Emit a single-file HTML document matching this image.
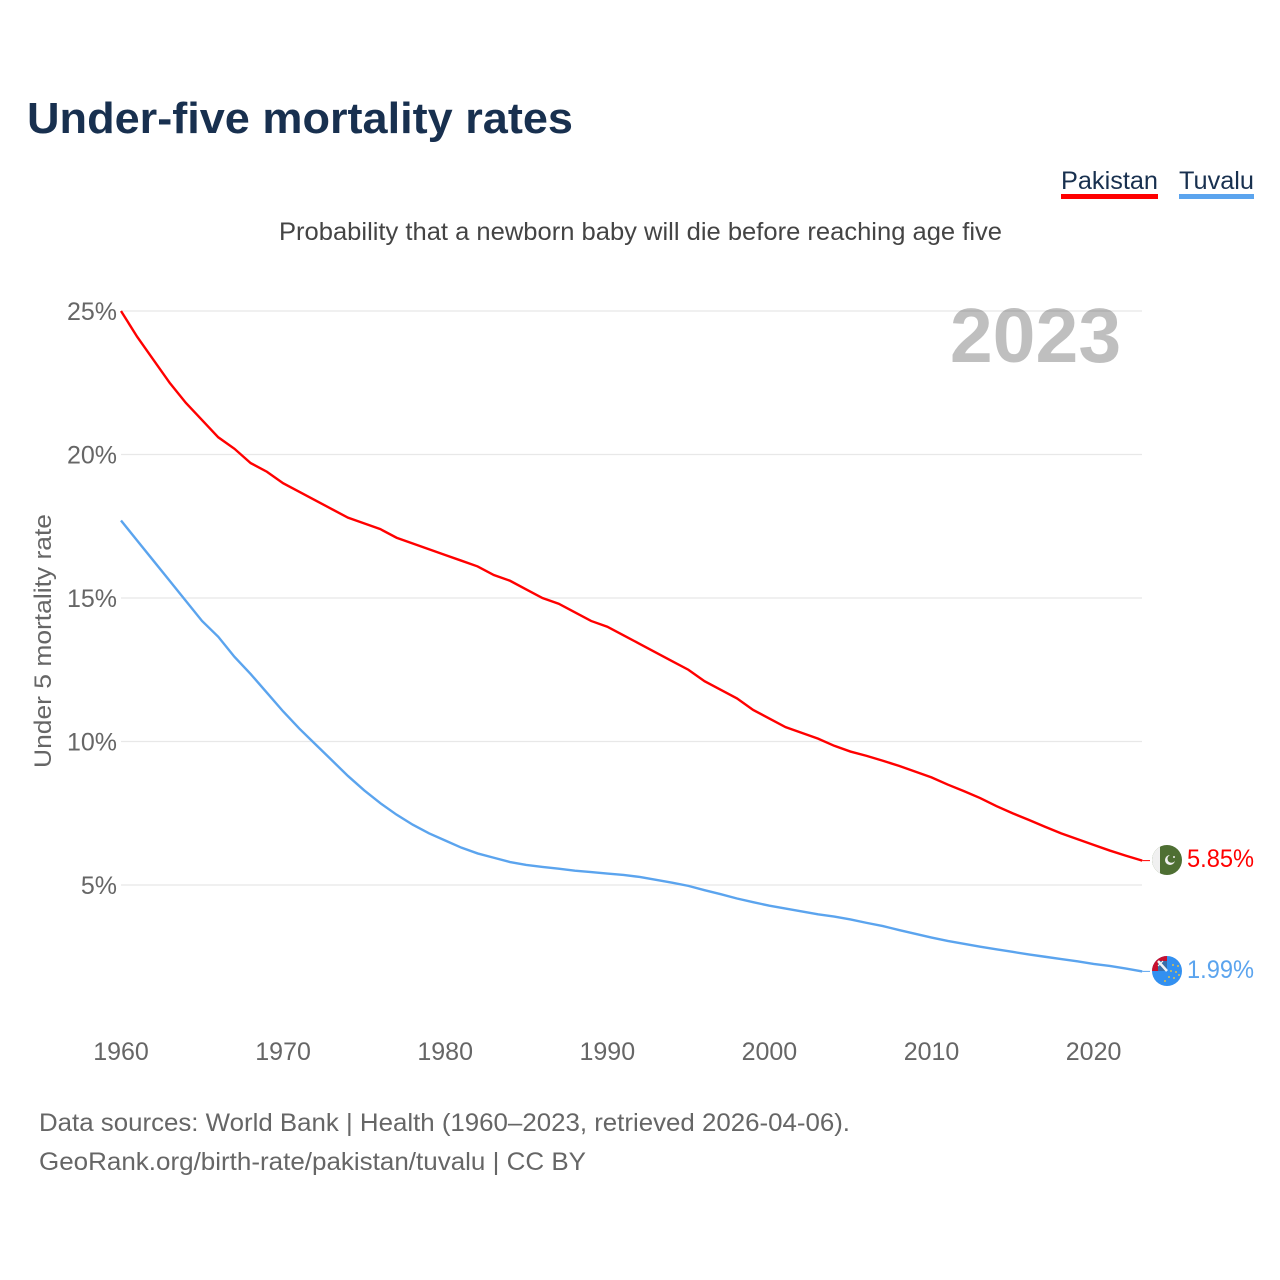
<!DOCTYPE html>
<html lang="en">
<head>
<meta charset="utf-8">
<title>Under-five mortality rates</title>
<style>
html,body{margin:0;padding:0;background:#fff;width:1280px;height:1280px;overflow:hidden}
svg{display:block}
text{font-family:"Liberation Sans",sans-serif}
</style>
</head>
<body>
<svg id="chart" width="1280" height="1280" viewBox="0 0 1280 1280" xmlns="http://www.w3.org/2000/svg">
  <defs>
    <clipPath id="clip-pk"><circle cx="1167" cy="860" r="15"/></clipPath>
    <clipPath id="clip-tv"><circle cx="1167" cy="971" r="15"/></clipPath>
  </defs>
  <rect width="1280" height="1280" fill="#fff"/>
  <text x="27" y="133" font-size="44" font-weight="700" fill="#18304f" textLength="546" lengthAdjust="spacingAndGlyphs">Under-five mortality rates</text>
  <text x="279" y="240" font-size="25" fill="#444" textLength="723" lengthAdjust="spacingAndGlyphs">Probability that a newborn baby will die before reaching age five</text>

  <g>
    <text x="1061" y="189" font-size="25" fill="#18304f" textLength="97" lengthAdjust="spacingAndGlyphs">Pakistan</text>
    <rect x="1061" y="194" width="97" height="5" fill="#ff0000"/>
  </g>
  <g>
    <text x="1179" y="189" font-size="25" fill="#18304f" textLength="75" lengthAdjust="spacingAndGlyphs">Tuvalu</text>
    <rect x="1179" y="194" width="75" height="5" fill="#5ba4ee"/>
  </g>

  <text transform="translate(51,768) rotate(-90)" x="0" y="0" font-size="24" fill="#666" textLength="254" lengthAdjust="spacingAndGlyphs">Under 5 mortality rate</text>

  <g id="grid"></g>
  <g id="yticks"></g>
  <g id="xticks"></g>

  <text x="1035.5" y="362" font-size="77" font-weight="700" fill="#000" fill-opacity="0.25" text-anchor="middle">2023</text>

  <g id="series"></g>

  <g clip-path="url(#clip-pk)">
    <rect x="1152" y="845" width="30" height="31" fill="#4e6f33"/>
    <rect x="1152" y="845" width="8" height="31" fill="#f0f0f0"/>
    <circle cx="1170" cy="860" r="5" fill="#f0f0f0"/>
    <circle cx="1171.5" cy="858.8" r="4" fill="#4e6f33"/>
    <circle cx="1174" cy="857" r="1" fill="#f0f0f0"/>
  </g>
  <g clip-path="url(#clip-tv)">
    <rect x="1152" y="956" width="30" height="31" fill="#3390f0"/>
    <rect x="1152" y="956" width="15" height="15" fill="#c8102e"/>
    <rect x="1158" y="961" width="9" height="10" fill="#3a6ea8"/>
    <path d="M1158 961 L1167 971" stroke="#f4f4f4" stroke-width="2.5"/>
    <path d="M1163 961 L1158 966" stroke="#f4f4f4" stroke-width="1.2"/>
    <circle cx="1173" cy="965" r="1" fill="#dcc04e"/>
    <circle cx="1178" cy="966" r="1" fill="#dcc04e"/>
    <circle cx="1171" cy="971" r="1" fill="#dcc04e"/>
    <circle cx="1176" cy="972" r="1" fill="#dcc04e"/>
    <circle cx="1179" cy="975" r="1" fill="#dcc04e"/>
    <circle cx="1169" cy="977" r="1" fill="#dcc04e"/>
    <circle cx="1174" cy="978" r="1" fill="#dcc04e"/>
    <circle cx="1165" cy="981" r="1" fill="#dcc04e"/>
  </g>

  <text x="1187" y="867" font-size="25" fill="#ff0000" textLength="67" lengthAdjust="spacingAndGlyphs">5.85%</text>
  <text x="1187" y="978" font-size="25" fill="#5ba4ee" textLength="67" lengthAdjust="spacingAndGlyphs">1.99%</text>

  <text x="39" y="1131" font-size="25" fill="#666" textLength="811" lengthAdjust="spacingAndGlyphs">Data sources: World Bank | Health (1960–2023, retrieved 2026-04-06).</text>
  <text x="39" y="1170" font-size="25" fill="#666" textLength="547" lengthAdjust="spacingAndGlyphs">GeoRank.org/birth-rate/pakistan/tuvalu | CC BY</text>
</svg>
<script>
const years = [1960,1961,1962,1963,1964,1965,1966,1967,1968,1969,1970,1971,1972,1973,1974,1975,1976,1977,1978,1979,1980,1981,1982,1983,1984,1985,1986,1987,1988,1989,1990,1991,1992,1993,1994,1995,1996,1997,1998,1999,2000,2001,2002,2003,2004,2005,2006,2007,2008,2009,2010,2011,2012,2013,2014,2015,2016,2017,2018,2019,2020,2021,2022,2023];
const pakistan = [25.0,24.1,23.3,22.5,21.8,21.2,20.6,20.2,19.7,19.4,19.0,18.7,18.4,18.1,17.8,17.6,17.4,17.1,16.9,16.7,16.5,16.3,16.1,15.8,15.6,15.3,15.0,14.8,14.5,14.2,14.0,13.7,13.4,13.1,12.8,12.5,12.1,11.8,11.5,11.1,10.8,10.5,10.3,10.1,9.85,9.65,9.5,9.33,9.15,8.95,8.75,8.5,8.27,8.03,7.75,7.5,7.27,7.03,6.8,6.6,6.4,6.2,6.02,5.85];
const tuvalu = [17.7,17.0,16.3,15.6,14.9,14.2,13.65,12.95,12.35,11.7,11.05,10.45,9.9,9.35,8.8,8.3,7.85,7.45,7.1,6.8,6.55,6.3,6.1,5.95,5.8,5.7,5.63,5.57,5.5,5.45,5.4,5.35,5.28,5.18,5.08,4.97,4.82,4.68,4.53,4.4,4.28,4.18,4.08,3.98,3.9,3.8,3.68,3.57,3.43,3.3,3.17,3.05,2.95,2.85,2.76,2.67,2.58,2.5,2.42,2.34,2.25,2.18,2.09,1.99];
const yTickValues = [5,10,15,20,25];
const xTickValues = [1960,1970,1980,1990,2000,2010,2020];

const SVG_NS = 'http://www.w3.org/2000/svg';
function xScale(year){ return 121 + (year - 1960) * 16.21; }
function yScale(value){ return 1028.5 - value * 28.7; }

const gridGroup = document.getElementById('grid');
const yTickGroup = document.getElementById('yticks');
const xTickGroup = document.getElementById('xticks');
const seriesGroup = document.getElementById('series');

yTickValues.forEach(function(v){
  const line = document.createElementNS(SVG_NS, 'line');
  
  
  line.setAttribute('x1', 121);
  line.setAttribute('x2', 1142);
  line.setAttribute('y1', yScale(v));
  line.setAttribute('y2', yScale(v));
  line.setAttribute('stroke', '#e8e8e8');
  line.setAttribute('stroke-width', '1.2');
  gridGroup.appendChild(line);

  const label = document.createElementNS(SVG_NS, 'text');
  
  
  label.setAttribute('x', 117);
  label.setAttribute('y', yScale(v) + 9);
  label.setAttribute('text-anchor', 'end');
  label.setAttribute('font-size', '25');
  label.setAttribute('fill', '#666');
  label.textContent = v + '%';
  yTickGroup.appendChild(label);
});

xTickValues.forEach(function(y){
  const label = document.createElementNS(SVG_NS, 'text');
  
  
  label.setAttribute('x', xScale(y));
  label.setAttribute('y', 1060);
  label.setAttribute('text-anchor', 'middle');
  label.setAttribute('font-size', '25');
  label.setAttribute('fill', '#666');
  label.textContent = y;
  xTickGroup.appendChild(label);
});

function linePath(values){
  return values.map(function(v, i){
    return (i ? 'L' : 'M') + xScale(years[i]).toFixed(2) + ' ' + yScale(v).toFixed(2);
  }).join(' ');
}

const pakistanLine = document.createElementNS(SVG_NS, 'path');


pakistanLine.setAttribute('d', linePath(pakistan));
pakistanLine.setAttribute('fill', 'none');
pakistanLine.setAttribute('stroke', '#ff0000');
pakistanLine.setAttribute('stroke-width', '2.4');
seriesGroup.appendChild(pakistanLine);

const tuvaluLine = document.createElementNS(SVG_NS, 'path');


tuvaluLine.setAttribute('d', linePath(tuvalu));
tuvaluLine.setAttribute('fill', 'none');
tuvaluLine.setAttribute('stroke', '#5ba4ee');
tuvaluLine.setAttribute('stroke-width', '2.4');
seriesGroup.appendChild(tuvaluLine);

const pakistanStub = document.createElementNS(SVG_NS, 'line');


pakistanStub.setAttribute('x1', xScale(2023));
pakistanStub.setAttribute('x2', 1150);
pakistanStub.setAttribute('y1', yScale(pakistan[pakistan.length - 1]));
pakistanStub.setAttribute('y2', yScale(pakistan[pakistan.length - 1]));
pakistanStub.setAttribute('stroke', '#ff0000');
pakistanStub.setAttribute('stroke-width', '1');
seriesGroup.appendChild(pakistanStub);

const tuvaluStub = document.createElementNS(SVG_NS, 'line');


tuvaluStub.setAttribute('x1', xScale(2023));
tuvaluStub.setAttribute('x2', 1150);
tuvaluStub.setAttribute('y1', yScale(tuvalu[tuvalu.length - 1]));
tuvaluStub.setAttribute('y2', yScale(tuvalu[tuvalu.length - 1]));
tuvaluStub.setAttribute('stroke', '#5ba4ee');
tuvaluStub.setAttribute('stroke-width', '1');
seriesGroup.appendChild(tuvaluStub);
</script>
</body>
</html>
